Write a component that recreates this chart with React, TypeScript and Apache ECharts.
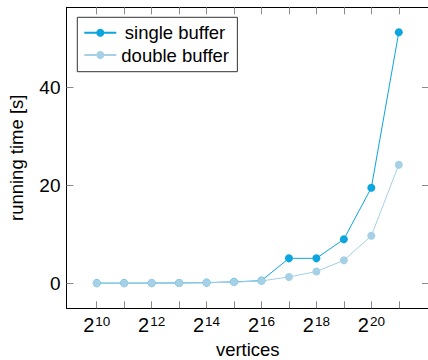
import React, { useEffect, useRef } from "react";
import * as echarts from "echarts";

// log2 of the vertex counts
const exponents = [10, 11, 12, 13, 14, 15, 16, 17, 18, 19, 20, 21];
// running times in seconds
const singleBuffer = [0.05, 0.05, 0.05, 0.08, 0.15, 0.3, 0.55, 5.1, 5.1, 9.0, 19.5, 51.2];
const doubleBuffer = [0.03, 0.03, 0.04, 0.07, 0.12, 0.25, 0.5, 1.3, 2.4, 4.7, 9.7, 24.2];
// tick labels
const xLabelExponents = [10, 12, 14, 16, 18, 20];
const yTickValues = [0, 20, 40];

const FONT = "'Liberation Sans', Arial, Helvetica, sans-serif";
const FONT_SIZE = 18.5;
const SINGLE_COLOR = "#0ba5df";
const DOUBLE_COLOR = "#a5d0e5";
const TICK_COLOR = "#8a8a8a";

export default function App() {
  const ref = useRef<HTMLDivElement>(null);

  useEffect(() => {
    if (!ref.current) return;
    const chart = echarts.init(ref.current, null, { renderer: "svg" });

    const xMin = 8.9;
    const xMax = 22.1;
    const yMin = -5.09;
    const yMax = 56.3;

    const axisLine = { show: true, onZero: false, lineStyle: { color: "#000", width: 1 } };
    const legendText = { fontSize: FONT_SIZE, lineHeight: 19, color: "#000", fontFamily: FONT };

    chart.setOption({
      animation: false,
      textStyle: { fontFamily: FONT },
      grid: {
        left: 66.5,
        top: 7.3,
        right: -1,
        bottom: 51.7,
        containLabel: false,
        outerBoundsMode: "none",
      },
      legend: {
        left: 77.3,
        top: 17.3,
        orient: "vertical",
        itemWidth: 32,
        itemHeight: 10,
        itemGap: 3.3,
        padding: [5.9, 8.4, 7.2, 6],
        borderColor: "#333",
        borderWidth: 1,
        backgroundColor: "#fff",
        textStyle: legendText,
        data: [
          { name: "single buffer", textStyle: { ...legendText, padding: [0, 0, 0, 3.5] } },
          { name: "double buffer", textStyle: { ...legendText, padding: [0, 0, 0, 0] } },
        ],
      },
      xAxis: [
        {
          type: "value",
          position: "bottom",
          min: xMin,
          max: xMax,
          name: "vertices",
          nameLocation: "middle",
          nameGap: 32,
          nameTextStyle: { fontSize: FONT_SIZE, color: "#000", fontFamily: FONT },
          axisLine,
          splitLine: { show: false },
          axisTick: {
            show: true,
            inside: true,
            length: 7,
            customValues: exponents,
            lineStyle: { color: TICK_COLOR },
          },
          axisLabel: {
            show: true,
            margin: 6,
            customValues: xLabelExponents,
            formatter: (v: number) => `{base|2}{sup|${v}}`,
            rich: {
              base: { fontSize: 20, color: "#000", fontFamily: FONT },
              sup: { fontSize: 13.5, color: "#000", fontFamily: FONT, padding: [0, 0, 8, 1] },
            },
          },
        },
        {
          type: "value",
          position: "top",
          min: xMin,
          max: xMax,
          axisLine,
          splitLine: { show: false },
          axisTick: {
            show: true,
            inside: true,
            length: 7,
            customValues: exponents,
            lineStyle: { color: TICK_COLOR },
          },
          axisLabel: { show: false },
        },
      ],
      yAxis: [
        {
          type: "value",
          position: "left",
          min: yMin,
          max: yMax,
          name: "running time [s]",
          nameLocation: "middle",
          nameGap: 41,
          nameRotate: 90,
          nameTextStyle: { fontSize: FONT_SIZE, color: "#000", fontFamily: FONT },
          axisLine,
          splitLine: { show: false },
          axisTick: {
            show: true,
            inside: true,
            length: 7,
            customValues: yTickValues,
            lineStyle: { color: TICK_COLOR },
          },
          axisLabel: {
            show: true,
            margin: 6,
            customValues: yTickValues,
            fontSize: 19,
            color: "#000",
            fontFamily: FONT,
          },
        },
        {
          type: "value",
          position: "right",
          min: yMin,
          max: yMax,
          axisLine,
          splitLine: { show: false },
          axisTick: {
            show: true,
            inside: true,
            length: 7,
            customValues: yTickValues,
            lineStyle: { color: TICK_COLOR },
          },
          axisLabel: { show: false },
        },
      ],
      series: [
        {
          name: "single buffer",
          type: "line",
          xAxisIndex: 0,
          yAxisIndex: 0,
          data: exponents.map((e, i) => [e, singleBuffer[i]]),
          symbol: "circle",
          symbolSize: 8,
          color: SINGLE_COLOR,
          lineStyle: { color: SINGLE_COLOR, width: 1 },
          itemStyle: { color: SINGLE_COLOR },
        },
        {
          name: "double buffer",
          type: "line",
          xAxisIndex: 0,
          yAxisIndex: 0,
          data: exponents.map((e, i) => [e, doubleBuffer[i]]),
          symbol: "circle",
          symbolSize: 8,
          color: DOUBLE_COLOR,
          lineStyle: { color: DOUBLE_COLOR, width: 1 },
          itemStyle: { color: DOUBLE_COLOR },
        },
      ],
    });

    return () => chart.dispose();
  }, []);

  return (
    <div
      ref={ref}
      style={{ position: "absolute", left: 0, top: 0, width: 428, height: 360 }}
    />
  );
}
